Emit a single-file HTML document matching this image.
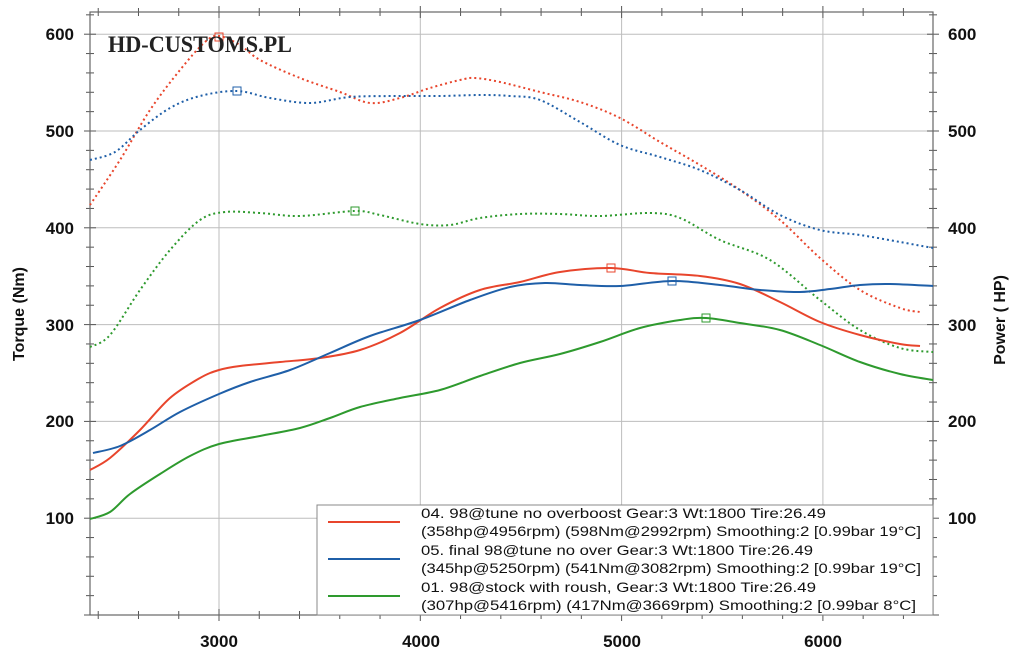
<!DOCTYPE html>
<html><head><meta charset="utf-8"><style>
html,body{margin:0;padding:0;background:#fff;}
svg{display:block;font-family:"Liberation Sans",Arial,sans-serif;}
</style></head><body>
<svg id="s" width="1024" height="651" viewBox="0 0 1024 651" xmlns="http://www.w3.org/2000/svg">
<rect width="1024" height="651" fill="#fff"/>
<g id="grid" stroke="#bdbdbd" stroke-width="1"></g>
<g id="ticks" stroke="#555" stroke-width="1"></g>
<rect x="90" y="12" width="843" height="603" fill="none" stroke="#666" stroke-width="1.2"/>
<g id="curves" fill="none"></g>
<text x="108" y="52" font-family="Liberation Serif,serif" font-size="23" font-weight="bold" fill="#222" textLength="184" lengthAdjust="spacingAndGlyphs">HD-CUSTOMS.PL</text>
<g font-size="17" font-weight="bold" fill="#111">
<text x="74" y="40" text-anchor="end">600</text>
<text x="74" y="137" text-anchor="end">500</text>
<text x="74" y="234" text-anchor="end">400</text>
<text x="74" y="331" text-anchor="end">300</text>
<text x="74" y="427" text-anchor="end">200</text>
<text x="74" y="524" text-anchor="end">100</text>
<text x="948" y="40">600</text>
<text x="948" y="137">500</text>
<text x="948" y="234">400</text>
<text x="948" y="331">300</text>
<text x="948" y="427">200</text>
<text x="948" y="524">100</text>
<text x="219" y="647" text-anchor="middle">3000</text>
<text x="421" y="647" text-anchor="middle">4000</text>
<text x="622" y="647" text-anchor="middle">5000</text>
<text x="823" y="647" text-anchor="middle">6000</text>
<text transform="translate(24,314) rotate(-90)" text-anchor="middle" font-size="16">Torque (Nm)</text>
<text transform="translate(1005,320) rotate(-90)" text-anchor="middle" font-size="16">Power ( HP)</text>
</g>
<rect x="317" y="505" width="616" height="110" fill="#fff" stroke="#888" stroke-width="1"/>
<line x1="328" y1="522" x2="400" y2="522" stroke="#e8452c" stroke-width="2"/>
<line x1="328" y1="559" x2="400" y2="559" stroke="#1f5fa8" stroke-width="2"/>
<line x1="328" y1="596" x2="400" y2="596" stroke="#2e9a2e" stroke-width="2"/>
<g font-size="14" fill="#111">
<text x="421" y="518" textLength="405" lengthAdjust="spacingAndGlyphs">04. 98@tune no overboost  Gear:3 Wt:1800 Tire:26.49</text>
<text x="421" y="536" textLength="500" lengthAdjust="spacingAndGlyphs">(358hp@4956rpm) (598Nm@2992rpm) Smoothing:2 [0.99bar 19°C]</text>
<text x="421" y="555" textLength="392" lengthAdjust="spacingAndGlyphs">05. final 98@tune no over Gear:3 Wt:1800 Tire:26.49</text>
<text x="421" y="573" textLength="500" lengthAdjust="spacingAndGlyphs">(345hp@5250rpm) (541Nm@3082rpm) Smoothing:2 [0.99bar 19°C]</text>
<text x="421" y="592" textLength="395" lengthAdjust="spacingAndGlyphs">01. 98@stock with roush,  Gear:3 Wt:1800 Tire:26.49</text>
<text x="421" y="610" textLength="495" lengthAdjust="spacingAndGlyphs">(307hp@5416rpm) (417Nm@3669rpm) Smoothing:2 [0.99bar 8°C]</text>
</g>
</svg>
<script>
var NS="http://www.w3.org/2000/svg";
function el(p,t,a){var e=document.createElementNS(NS,t);for(var k in a)e.setAttribute(k,a[k]);document.getElementById(p).appendChild(e);return e;}
function Y(v){return 615-v*0.968;}
function X(r){return 219+(r-3000)*0.2013;}
for(var v=100;v<=600;v+=100)el("grid","line",{x1:90,x2:933,y1:Y(v),y2:Y(v)});
for(var r=3000;r<=6000;r+=1000)el("grid","line",{x1:X(r),x2:X(r),y1:12,y2:615});
for(var v=0;v<=640;v+=20){var y=Y(v);if(y<12||y>615)continue;var L=v%100==0?6:4;
 el("ticks","line",{x1:90-L,x2:90+L,y1:y,y2:y});el("ticks","line",{x1:933-L,x2:933+L,y1:y,y2:y});}
for(var r=2400;r<=6500;r+=200){var x=X(r);var L=r%1000==0?6:4;
 el("ticks","line",{x1:x,x2:x,y1:12-L,y2:12+L});el("ticks","line",{x1:x,x2:x,y1:615-L,y2:615+L});}
function path(p){var d="M"+p[0][0]+","+p[0][1];for(var i=0;i<p.length-1;i++){var p0=p[i-1]||p[i],p1=p[i],p2=p[i+1],p3=p[i+2]||p2;
 d+=" C"+(p1[0]+(p2[0]-p0[0])/6)+","+(p1[1]+(p2[1]-p0[1])/6)+" "+(p2[0]-(p3[0]-p1[0])/6)+","+(p2[1]-(p3[1]-p1[1])/6)+" "+p2[0]+","+p2[1];}return d;}
var R="#e8452c",B="#1f5fa8",G="#2e9a2e";
var S=[
[R,1,[[90,205],[120,160],[150,110],[180,70],[205,42],[219,36],[240,45],[260,60],[300,78],[340,92],[370,103],[400,98],[430,88],[460,80],[475,78],[500,82],[540,92],[580,102],[620,118],[660,142],[700,165],[740,190],[780,220],[820,258],[860,290],[900,308],[920,312]]],
[B,1,[[90,160],[115,152],[140,130],[170,108],[200,96],[237,91],[270,98],[310,103],[350,97],[400,96],[440,96],[480,95],[510,96],[540,100],[580,122],[620,145],[660,157],[700,170],[740,190],[780,215],[820,230],[860,235],[900,242],[933,248]]],
[G,1,[[90,347],[110,335],[140,290],[170,250],[200,220],[225,212],[260,213],[300,216],[355,211],[380,215],[420,224],[450,225],[480,218],[520,214],[560,214],[600,216],[650,213],[680,218],[720,240],[770,260],[820,300],[860,330],[900,348],[933,352]]],
[R,0,[[90,470],[110,458],[140,430],[170,398],[200,378],[219,370],[240,366],[280,362],[320,358],[360,350],[400,333],[440,308],[480,290],[520,282],[560,272],[611,268],[650,273],[700,276],[740,284],[780,302],[820,322],[860,335],[900,344],[920,346]]],
[B,0,[[93,453],[120,446],[150,430],[180,412],[219,394],[250,382],[290,370],[330,353],[370,336],[420,320],[470,300],[510,287],[545,283],[580,285],[620,286],[672,281],[720,285],[760,290],[800,292],[830,289],[860,285],[890,284],[933,286]]],
[G,0,[[90,519],[110,512],[130,494],[160,474],[190,456],[219,444],[260,436],[300,428],[330,418],[360,407],[400,398],[440,390],[480,376],[520,363],[560,354],[600,342],[640,328],[680,320],[706,318],[740,323],[780,330],[820,345],[860,362],[900,374],[933,380]]]];
S.forEach(function(s){var a={d:path(s[2]),stroke:s[0],"stroke-width":2};if(s[1])a["stroke-dasharray"]="2 3";el("curves","path",a);});
[[R,219,37],[R,611,268],[B,237,91],[B,672,281],[G,355,211],[G,706,318]].forEach(function(m){el("curves","rect",{x:m[1]-4,y:m[2]-4,width:8,height:8,stroke:m[0],"stroke-width":1,fill:"none"});});
</script>
</body></html>
